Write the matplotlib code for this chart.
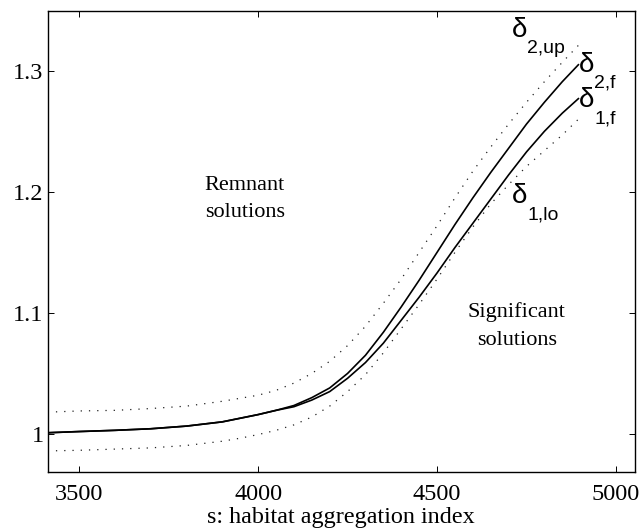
import matplotlib
matplotlib.use('Agg')
import matplotlib.pyplot as plt

# ---- data ----
s_values = [3412, 3500, 3600, 3700, 3800, 3900, 3950, 4000, 4050, 4100, 4150,
            4200, 4250, 4300, 4350, 4400, 4450, 4500, 4550, 4600, 4650, 4700,
            4750, 4800, 4850, 4895]
delta_2f = [1.001, 1.002, 1.003, 1.0043, 1.0065, 1.010, 1.013, 1.016, 1.0195,
            1.0235, 1.030, 1.038, 1.050, 1.065, 1.084, 1.105, 1.127, 1.150,
            1.173, 1.195, 1.216, 1.236, 1.256, 1.274, 1.291, 1.305]
delta_1f = [1.001, 1.002, 1.003, 1.0043, 1.0065, 1.010, 1.013, 1.016, 1.0195,
            1.0225, 1.028, 1.035, 1.046, 1.059, 1.075, 1.094, 1.113, 1.133,
            1.154, 1.174, 1.194, 1.214, 1.233, 1.250, 1.265, 1.277]
delta_2up = [1.018, 1.019, 1.0195, 1.021, 1.023, 1.027, 1.0295, 1.032, 1.036,
             1.042, 1.050, 1.060, 1.073, 1.089, 1.108, 1.128, 1.150, 1.172,
             1.195, 1.217, 1.237, 1.256, 1.274, 1.291, 1.307, 1.321]
delta_1lo = [0.986, 0.9865, 0.9875, 0.9885, 0.9905, 0.994, 0.9965, 0.9995,
             1.003, 1.0075, 1.014, 1.023, 1.035, 1.049, 1.067, 1.087, 1.107,
             1.128, 1.150, 1.171, 1.190, 1.206, 1.221, 1.234, 1.247, 1.260]

x_ticks = [3500, 4000, 4500, 5000]
x_tick_labels = ['3500', '4000', '4500', '5000']
y_ticks = [1.0, 1.1, 1.2, 1.3]
y_tick_labels = ['1', '1.1', '1.2', '1.3']
x_label = 's: habitat aggregation index'

# curve labels: (subscript, s, value)
label_subs = ['2,up', '2,f', '1,f', '1,lo']
label_s = [4710, 4897, 4897, 4710]
label_v = [1.328, 1.299, 1.270, 1.1907]

plt.rcParams['font.family'] = ['Liberation Serif', 'DejaVu Serif']

fig = plt.figure(figsize=(6.42, 5.29), dpi=100)
ax = fig.add_axes([0.0743, 0.1078, 0.9147, 0.8712])

ax.plot(s_values, delta_2f, color='black', lw=1.2)
ax.plot(s_values, delta_1f, color='black', lw=1.2)
ax.plot(s_values, delta_2up, color='#222222', lw=0.9, linestyle=(0, (1, 5.6)))
ax.plot(s_values, delta_1lo, color='#222222', lw=0.9, linestyle=(0, (1, 5.6)))

ax.set_xlim(3412, 5053)
ax.set_ylim(0.9686, 1.3493)
ax.set_xticks(x_ticks)
ax.set_xticklabels(x_tick_labels)
ax.set_yticks(y_ticks)
ax.set_yticklabels(y_tick_labels)
ax.tick_params(direction='in', length=4.3, width=0.7, top=True, right=True,
               labelsize=17.5)
ax.tick_params(axis='x', pad=9)
ax.tick_params(axis='y', pad=3)
for sp in ax.spines.values():
    sp.set_linewidth(1.0)
ax.set_xlabel(x_label, fontsize=17.4, labelpad=1)

txt_kw = dict(fontsize=16, ha='center', va='center', linespacing=1.6)
ax.text(3963, 1.194, 'Remnant\nsolutions', **txt_kw)
ax.text(4723, 1.089, 'Significant\nsolutions', **txt_kw)

sans = ['Liberation Sans', 'DejaVu Sans']
for sub, xs, yv in zip(label_subs, label_s, label_v):
    ax.annotate('δ', xy=(xs, yv), ha='left', va='baseline', fontsize=20,
                family=sans)
    ax.annotate(sub, xy=(xs, yv), xytext=(11, -11.5),
                textcoords='offset points', ha='left', va='baseline',
                fontsize=14, family=sans)

fig.savefig('out.png', dpi=100)
